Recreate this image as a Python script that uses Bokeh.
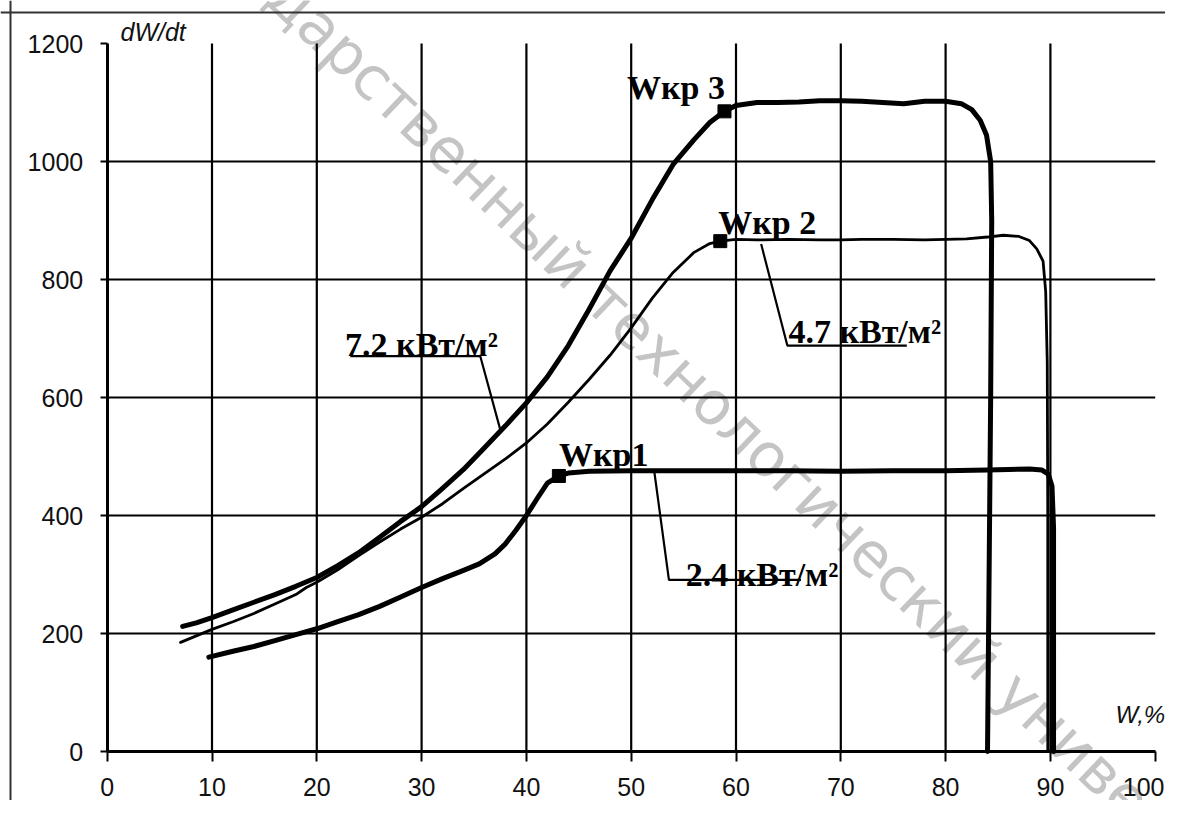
from bokeh.plotting import figure
from bokeh.models import Range1d, FixedTicker, Label, LinearAxis, Span
from bokeh.embed import file_html
from bokeh.resources import INLINE

# ---------------- data ----------------
x_ticks = [0, 10, 20, 30, 40, 50, 60, 70, 80, 90, 100]
y_ticks = [0, 200, 400, 600, 800, 1000, 1200]
x_grid = [10, 20, 30, 40, 50, 60, 70, 80, 90]
y_grid = [200, 400, 600, 800, 1000]

# 7.2 kW/m2 (thick)
w72_x = [7.2, 8.5, 10, 12, 14, 16, 18, 20, 22, 24, 26, 28, 30, 32, 34, 36, 38, 40,
         42, 44, 46, 48, 50, 52, 54, 56, 57.5, 58.9, 60, 62, 64, 66, 68, 70, 72, 74,
         76, 78, 80, 81.5, 82.5, 83.3, 83.9, 84.3, 84.4, 84.3, 84.15, 84.0]
w72_y = [212, 218, 227, 240, 253, 266, 280, 295, 315, 337, 363, 390, 415, 446, 478, 515, 552, 591,
         635, 688, 750, 815, 870, 935, 995, 1037, 1066, 1085, 1095, 1100, 1100, 1101, 1103, 1103, 1102, 1100,
         1098, 1102, 1102, 1098, 1088, 1070, 1045, 1000, 900, 600, 300, 0]

# 4.7 kW/m2 (thin)
w47_x = [7.0, 8.5, 10, 12, 14, 16, 18, 19, 20, 22, 24, 26, 28, 30, 32, 34, 36, 38, 40,
         42, 44, 46, 48, 50, 52, 54, 56, 57.5, 58.5, 60, 62, 65, 68, 70, 72, 75, 78, 80,
         82, 84, 85.5, 87, 88, 88.7, 89.3, 89.55, 89.7, 89.75, 89.75]
w47_y = [185, 196, 207, 220, 234, 250, 266, 278, 287, 308, 332, 355, 377, 397, 420, 446, 471, 496, 523,
         555, 592, 631, 672, 718, 768, 812, 846, 861, 865, 868, 867, 868, 867, 867, 868, 868, 867, 868,
         869, 872, 875, 873, 866, 852, 831, 780, 660, 400, 0]

# 2.4 kW/m2 (thick)
w24_x = [9.7, 12, 14, 16, 18, 20, 22, 24, 26, 28, 30, 32, 34, 35.5, 37, 38, 39, 40, 41, 42,
         43.1, 44, 46, 50, 55, 60, 65, 70, 75, 80, 84, 86, 88, 89.2, 89.8, 90.15, 90.3, 90.3]
w24_y = [160, 170, 178, 188, 198, 208, 220, 232, 246, 262, 278, 293, 307, 318, 335, 352, 375, 400, 428, 455,
         467, 472, 475, 476, 476, 476, 476, 475, 476, 476, 477, 478, 479, 477, 470, 450, 380, 0]

# critical points W_кр
crit_x = [43.1, 58.5, 58.9]
crit_y = [467, 865, 1085]
crit_labels = ["Wкр1", "Wкр 2", "Wкр 3"]

# heat flux labels
flux_labels = ["7.2 кВт/м²", "4.7 кВт/м²", "2.4 кВт/м²"]

# leader lines
lead72_x = [23.2, 35.6, 37.5]
lead72_y = [670, 670, 546]
lead47_x = [76.3, 64.9, 62.4]
lead47_y = [688, 688, 860]
lead24_x = [66.2, 53.6, 52.2]
lead24_y = [291, 291, 475]

watermark = "государственный технологический университет"

# ---------------- layout / scales ----------------
W, H = 1165, 800
X0_PX, Y0_PX = 106.7, 751.0      # canvas pixel of data origin
PX_X, PX_Y = 10.48, 0.59         # pixels per data unit

def dx(px):
    return (px - X0_PX) / PX_X

def dy(py):
    return (Y0_PX - py) / PX_Y

p = figure(width=W, height=H,
           x_range=Range1d(dx(0), dx(W)), y_range=Range1d(dy(H), dy(0)),
           x_axis_location=None, y_axis_location=None, min_border=0,
           output_backend="svg", toolbar_location=None)
p.grid.visible = False
p.outline_line_color = None
p.background_fill_color = "white"
p.border_fill_color = "white"

# page frame
p.add_layout(Span(location=dy(12), dimension="width", line_color="#333", line_width=2))
p.add_layout(Span(location=dx(10), dimension="height", line_color="#333", line_width=2))

# watermark (under everything)
p.add_layout(Label(x=6.8, y=1457, text=watermark, angle=-43.65, angle_units="deg",
                   text_font="DejaVu Sans", text_font_size="60px", text_color="#c4c4c4",
                   text_baseline="middle", text_align="left", level="image"))

# grid lines
p.segment(x0=x_grid, y0=[y_ticks[0]] * len(x_grid), x1=x_grid, y1=[y_ticks[-1]] * len(x_grid),
          line_color="black", line_width=2.2)
p.segment(x0=[x_ticks[0]] * len(y_grid), y0=y_grid, x1=[x_ticks[-1]] * len(y_grid), y1=y_grid,
          line_color="black", line_width=2.2)

# axes
tick_font = dict(text_font="Liberation Sans", text_font_size="25px", text_color="#111")
xaxis = LinearAxis(fixed_location=0, bounds=(x_ticks[0], x_ticks[-1]), ticker=FixedTicker(ticks=x_ticks))
yaxis = LinearAxis(fixed_location=0, bounds=(y_ticks[0], y_ticks[-1]), ticker=FixedTicker(ticks=y_ticks))
for ax in (xaxis, yaxis):
    ax.axis_line_width = 3
    ax.axis_line_color = "black"
    ax.major_tick_line_width = 2
    ax.major_tick_line_color = "black"
    ax.major_tick_in = 0
    ax.minor_tick_line_color = None
    ax.major_label_text_font = tick_font["text_font"]
    ax.major_label_text_font_size = tick_font["text_font_size"]
    ax.major_label_text_color = tick_font["text_color"]
xaxis.major_tick_out = 10
xaxis.major_label_standoff = 16
yaxis.major_tick_out = 7
yaxis.major_label_standoff = 17
# last x label would be cut by the canvas edge: draw it right-aligned instead
xaxis.major_label_overrides = {x_ticks[-1]: ""}
p.add_layout(xaxis, "below")
p.add_layout(yaxis, "left")
p.add_layout(Label(x=dx(W - 1), y=dy(Y0_PX + 26), text=str(x_ticks[-1]), text_align="right",
                   text_baseline="top", **tick_font))

# curves
p.line(w72_x, w72_y, line_width=5, color="black", line_join="round", line_cap="round")
p.line(w47_x, w47_y, line_width=2.8, color="black", line_join="round", line_cap="round")
p.line(w24_x, w24_y, line_width=5, color="black", line_join="round", line_cap="round")

# leaders
for lx, ly in ((lead72_x, lead72_y), (lead47_x, lead47_y), (lead24_x, lead24_y)):
    p.line(lx, ly, line_width=2.2, color="black")

# markers
p.scatter(crit_x, crit_y, marker="square", size=13, color="black")

# text labels
serif = dict(text_font="Liberation Serif", text_font_style="bold", text_font_size="34px",
             text_color="black", text_baseline="alphabetic", text_align="left")
crit_pos = [(43.1, 504), (58.3, 897), (49.6, 1126)]
for t, (lx, ly) in zip(crit_labels, crit_pos):
    p.add_layout(Label(x=lx, y=ly, text=t, **serif))
flux_pos = [(22.7, 690), (65.0, 712), (55.2, 300)]
for t, (lx, ly) in zip(flux_labels, flux_pos):
    p.add_layout(Label(x=lx, y=ly, text=t, **serif))

# axis titles
p.add_layout(Label(x=1.27, y=1195, text="dW/dt", text_font="Liberation Sans",
                   text_font_style="italic", text_font_size="25px", text_color="#111"))
p.add_layout(Label(x=96.2, y=40.6, text="W,%", text_font="Liberation Sans",
                   text_font_style="italic", text_font_size="24px", text_color="#111"))

open("out.html", "w").write(file_html(p, INLINE))
